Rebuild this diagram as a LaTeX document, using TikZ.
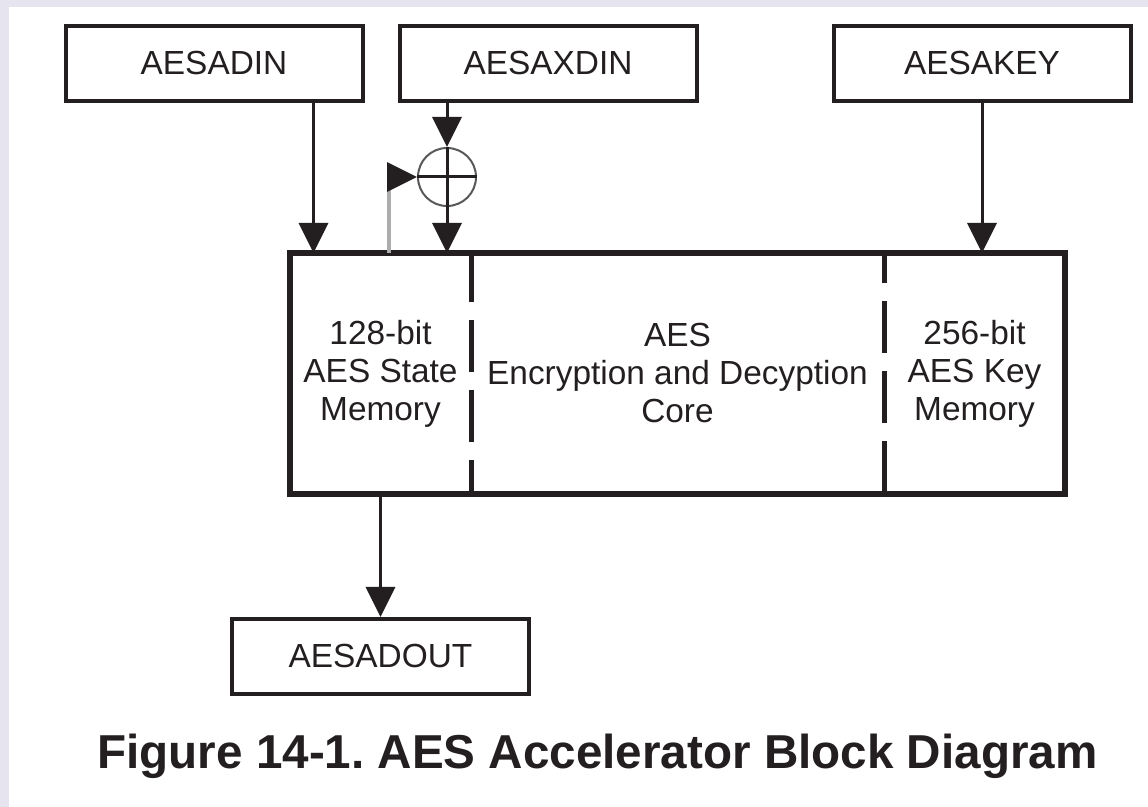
\documentclass[tikz,border=0pt]{standalone}
\usepackage{fontspec}
\setmainfont{Liberation Sans}
\usepackage{tikz}
\usetikzlibrary{arrows.meta, positioning}
\usepackage{xcolor}
\definecolor{ink}{RGB}{35,31,32}
\definecolor{edgebg}{RGB}{230,228,238}
\frenchspacing

\begin{document}
\begin{tikzpicture}[x=0.5pt,y=-0.5pt,
    font=\fontsize{16.7}{19}\selectfont, text=ink,
    box/.style={draw=ink,line width=2pt,minimum width=148.5pt,minimum height=37.5pt,inner sep=0pt},
    part/.style={minimum height=120.5pt,inner sep=0pt,outer sep=0pt,align=center},
    frame/.style={draw=ink,line width=2.8pt},
    divider/.style={draw=ink,line width=2.5pt},
    xorc/.style={circle,draw=black!65,line width=1pt,minimum size=29pt,inner sep=0pt},
    arr/.style={-{Triangle[length=15pt,width=14.5pt]},line width=1.5pt,draw=ink},
    fb/.style={-{Triangle[length=15pt,width=14.5pt,color=ink]},line width=1.8pt,draw=black!32}]
    \useasboundingbox (0,0) rectangle (1148,807);
    \fill[edgebg] (0,0) rectangle (1148,807);
    \fill[white] (9,7) rectangle (1148,807);
    \node[part,minimum width=90.5pt] (state) at (380.5,373.5) {128-bit\\AES State\\Memory};
    \node[part,minimum width=206.5pt,right=0pt of state] (crypt) {AES\\Encryption and Decyption\\Core};
    \node[part,minimum width=90.5pt,right=0pt of crypt] (keymem) {256-bit\\AES Key\\Memory};
    \draw[frame] (state.north west) rectangle (keymem.south east);
    \draw[divider,dash pattern=on 26pt off 9pt,dash phase=1.5pt] (state.north east) -- (state.south east);
    \draw[divider,dash pattern=on 26pt off 9pt,dash phase=11pt] (crypt.north east) -- (crypt.south east);
    \node[box] (din) at (214,63.5) {AESADIN};
    \node[box,right=16.5pt of din] (xdin) {AESAXDIN};
    \node[box,right=66.5pt of xdin] (key) {AESAKEY};
    \node[box,below=61.5pt of state] (out) {AESADOUT};
    \node[xorc] (xor) at (447,177) {};
    \draw[line width=1.5pt,draw=ink] (xor.north) -- (xor.south) (xor.west) -- (xor.east);
    \draw[arr] ([xshift=-25.5pt]din.south east) -- ([xshift=-25.5pt]din.south east |- state.north);
    \draw[arr] (xor |- xdin.south) -- (xor.north);
    \draw[arr] (xor.south) -- (xor |- state.north);
    \draw[fb] ([xshift=49.5pt]state.north west) |- (xor.west);
    \draw[arr] (key.south) -- (key.south |- keymem.north);
    \draw[arr] (out.north |- state.south) -- (out.north);
    \node[font=\bfseries\fontsize{23.8}{28}\selectfont,anchor=base] (caption) at (597.5,769) {Figure 14-1. AES Accelerator Block Diagram};
  \end{tikzpicture}
\end{document}
